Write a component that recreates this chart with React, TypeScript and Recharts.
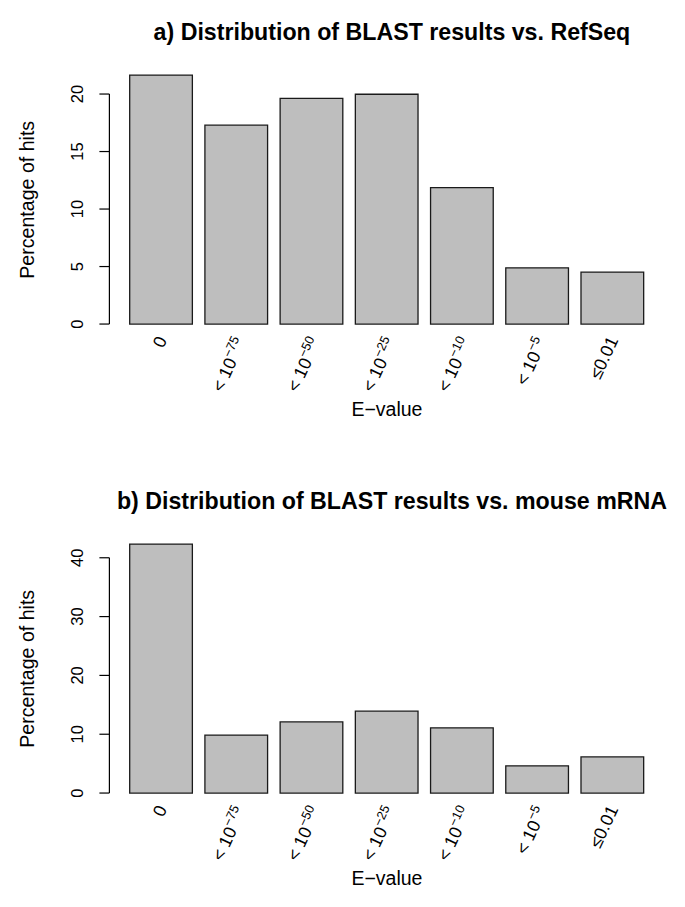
import React from 'react';
import { BarChart, Bar, XAxis, YAxis, ReferenceLine, Customized } from 'recharts';

// ---- data ----
const labelBase = ['0', '< 10', '< 10', '< 10', '< 10', '< 10', '\u22640.01'];
const labelSup = ['', '\u221275', '\u221250', '\u221225', '\u221210', '\u22125', ''];
const refseqPct = [21.65, 17.29, 19.63, 19.98, 11.87, 4.89, 4.52];
const mousePct = [42.33, 9.85, 12.1, 13.92, 11.09, 4.63, 6.15];
const refseqTicks = [0, 5, 10, 15, 20];
const mouseTicks = [0, 10, 20, 30, 40];
const titleA = 'a) Distribution of BLAST results vs. RefSeq';
const titleB = 'b) Distribution of BLAST results vs. mouse mRNA';
const xTitle = 'E\u2212value';
const yTitle = 'Percentage of hits';

// ---- layout ----
const W = 685;
const FONT = '"Liberation Sans", Arial, Helvetica, sans-serif';
const plotLeft = 109.4;
const plotRight = 664.5;
const plotTop = 65;
const plotBottom = 336.6;
const yAxisW = 60;
const n = labelBase.length;
const barW = 1;
const space = 0.2;
const xLo = space;
const xHi = n * (barW + space);
const xExt = 0.04 * (xHi - xLo);
const xMin = xLo - xExt;
const xMax = xHi + xExt;
const barPx = (plotRight - plotLeft) / (xMax - xMin);

function yDomain(vals: number[]): [number, number] {
  const hi = Math.max(...vals);
  const lo = -0.01 * hi;
  const ext = 0.04 * (hi - lo);
  return [lo - ext, hi + ext];
}

const XTick = (props: any) => {
  const { x, y, payload } = props;
  const i = payload && payload.index != null ? payload.index : props.index;
  const base = labelBase[i];
  const sup = labelSup[i];
  const shift = sup ? 17 : 12.8;
  return (
    <g transform={`translate(${x - 5.5},${y - 2}) rotate(-65)`}>
      <text x={0} y={shift} textAnchor="end" fontSize={17.8} fontFamily={FONT} fill="#000">
        <tspan>{base}</tspan>
        {sup ? (
          <tspan dy={-7.5} fontSize={12.8}>
            {sup}
          </tspan>
        ) : null}
      </text>
    </g>
  );
};

const YTick = (props: any) => {
  const { x, y, payload } = props;
  return (
    <text
      transform={`translate(${x - 16.4},${y}) rotate(-90)`}
      textAnchor="middle"
      fontSize={16.5}
      fontFamily={FONT}
      fill="#000"
    >
      {payload.value}
    </text>
  );
};

function Panel({ title, values, ticks, height }: { title: string; values: number[]; ticks: number[]; height: number }) {
  const data = values.map((v, i) => ({ pos: xLo + barW / 2 + i * (barW + space), value: v }));
  const positions = data.map((d) => d.pos);
  const dom = yDomain(values);
  const cx = (plotLeft + plotRight) / 2;
  return (
    <BarChart
      width={W}
      height={height}
      data={data}
      margin={{ top: plotTop, right: W - plotRight, bottom: 0, left: plotLeft - yAxisW }}
    >
      <XAxis
        type="number"
        dataKey="pos"
        domain={[xMin, xMax]}
        ticks={positions}
        interval={0}
        axisLine={false}
        tickLine={false}
        tickSize={0}
        tickMargin={0}
        height={height - plotBottom}
        tick={<XTick />}
        label={{
          content: (p: any) => {
            const vb = p.viewBox || {};
            return (
              <text
                x={vb.x + vb.width / 2}
                y={vb.y + 79.4}
                textAnchor="middle"
                fontSize={19.5}
                fontFamily={FONT}
                fill="#000"
              >
                {xTitle}
              </text>
            );
          },
        }}
      />
      <YAxis
        type="number"
        domain={dom}
        ticks={ticks}
        interval={0}
        width={yAxisW}
        axisLine={false}
        tickSize={10}
        tickMargin={0}
        stroke="#000"
        tickLine={{ stroke: '#000', strokeWidth: 1.2 }}
        tick={<YTick />}
        label={{
          content: (p: any) => {
            const vb = p.viewBox || {};
            const cy = vb.y + vb.height / 2 - 1;
            return (
              <text
                transform={`translate(${33.5},${cy}) rotate(-90)`}
                textAnchor="middle"
                fontSize={19.6}
                fontFamily={FONT}
                fill="#000"
              >
                {yTitle}
              </text>
            );
          },
        }}
      />
      <ReferenceLine
        segment={[
          { x: xMin, y: ticks[0] },
          { x: xMin, y: ticks[ticks.length - 1] },
        ]}
        stroke="#000"
        strokeWidth={1.2}
        ifOverflow="visible"
      />
      <Bar
        dataKey="value"
        fill="#bebebe"
        stroke="#1a1a1a"
        strokeWidth={1.3}
        barSize={barPx}
        isAnimationActive={false}
      />
      <Customized
        component={() => (
          <text x={cx + 5} y={39.5} textAnchor="middle" fontSize={23.2} fontWeight="bold" fontFamily={FONT} fill="#000">
            {title}
          </text>
        )}
      />
    </BarChart>
  );
}

export default function App() {
  return (
    <div style={{ position: 'absolute', left: 0, top: 0, width: W, height: 907, background: '#fff' }}>
      <div style={{ position: 'absolute', left: 0, top: 0 }}>
        <Panel title={titleA} values={refseqPct} ticks={refseqTicks} height={469} />
      </div>
      <div style={{ position: 'absolute', left: 0, top: 469 }}>
        <Panel title={titleB} values={mousePct} ticks={mouseTicks} height={438} />
      </div>
    </div>
  );
}
